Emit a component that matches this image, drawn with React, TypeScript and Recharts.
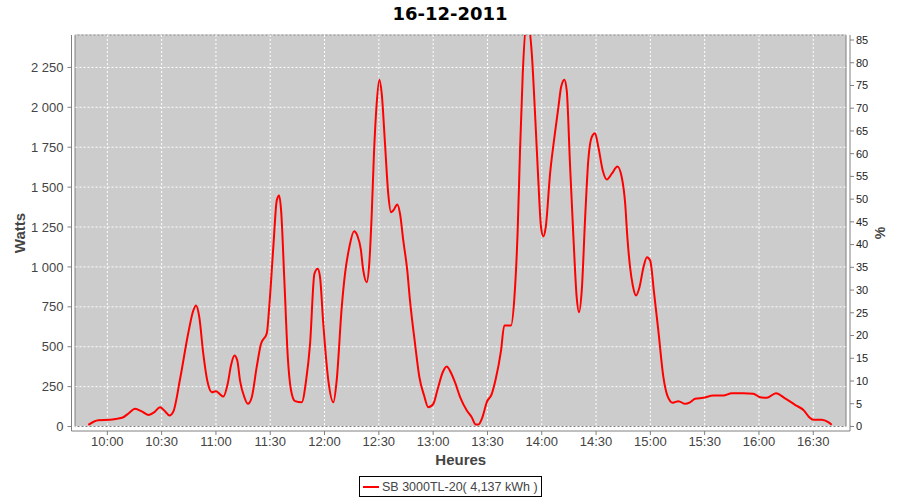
import { LineChart, Line, XAxis, YAxis, CartesianGrid, ReferenceArea, Legend } from 'recharts';

// time of each sample, minutes after midnight
const minutes = [
  589.5, 595, 601.5, 605, 608.8, 612, 615.3, 619, 622.6, 626, 629.1, 631.5, 634.3, 636.5, 640.2, 644.8,
  647.5, 649, 650.8, 653, 655.2, 657.7, 660, 662, 664.1, 666.5, 668.3, 670.2, 671.8, 673.3, 675.7, 677.6,
  679.8, 682.5, 684.9, 688.1, 689.5, 691.7, 693.6, 694.9, 696, 697.8, 699.7, 701.5, 703.7, 707.4, 709.8, 712,
  714.4, 716.2, 717.5, 719.3, 722.1, 724.9, 726.7, 729.5, 731.3, 733.7, 736.3, 738.1, 740, 741.4, 743.3, 744.7,
  746, 747.3, 748.8, 750.3, 751.6, 753.4, 755.2, 756.7, 758, 760.2, 761.7, 763.5, 765.7, 767.2, 770, 772.4,
  775, 777.3, 780.1, 782.3, 785.3, 787.5, 789.7, 792.1, 794.9, 798.6, 801.3, 803.5, 805, 807.2, 809.6, 812.4,
  814.6, 817.5, 819.3, 823, 824.9, 826.7, 828, 829.5, 832, 834.5, 836.3, 838.1, 839.6, 840.9, 842.2, 844.6,
  847, 849.2, 850.7, 852.5, 853.8, 855.6, 857.5, 859.3, 860.6, 862.1, 864, 865.7, 867.6, 869.4, 871.3, 873.7,
  875.9, 878.7, 881.8, 884.2, 886.1, 887.3, 888.8, 890.3, 892.1, 894, 896.2, 898.1, 899.9, 902.1, 904.4, 907.2,
  909.4, 912.4, 915.5, 919.2, 921.9, 924.7, 929.3, 934.8, 940.3, 945, 951.4, 956.9, 960.6, 964.3, 969.4, 974.4,
  979.9, 984.9, 987.8, 990, 994.7, 998.3, 1000.2,
];

const watts = [
  10, 40, 42, 48, 58, 85, 111, 95, 73, 90, 121, 100, 69, 95, 299, 591,
  727, 758, 685, 456, 288, 215, 221, 205, 188, 268, 382, 445, 414, 288, 184, 142,
  184, 372, 518, 585, 758, 1124, 1416, 1448, 1354, 915, 434, 226, 159, 152, 288, 518,
  957, 988, 936, 644, 288, 152, 288, 748, 957, 1124, 1224, 1197, 1113, 978, 904, 1020,
  1312, 1709, 2022, 2173, 2085, 1772, 1458, 1343, 1354, 1391, 1333, 1166, 978, 790, 518, 309,
  194, 121, 142, 226, 340, 376, 340, 276, 184, 100, 58, 13, 13, 58, 152, 205,
  299, 476, 633, 633, 810, 1228, 1730, 2210, 2560, 2336, 1960, 1542, 1249, 1191, 1249, 1584,
  1813, 2001, 2127, 2173, 2106, 1646, 1186, 810, 716, 852, 1316, 1667, 1813, 1838, 1750, 1604,
  1548, 1584, 1629, 1562, 1396, 1186, 998, 884, 821, 873, 998, 1061, 1040, 832, 602, 309,
  194, 149, 159, 142, 152, 174, 180, 194, 194, 209, 209, 205, 184, 180, 209, 177,
  136, 100, 58, 42, 42, 27, 11,
];

const timeTicks = [600, 630, 660, 690, 720, 750, 780, 810, 840, 870, 900, 930, 960, 990];
const wattTicks = [0, 250, 500, 750, 1000, 1250, 1500, 1750, 2000, 2250];
const pctTicks = [0, 5, 10, 15, 20, 25, 30, 35, 40, 45, 50, 55, 60, 65, 70, 75, 80, 85];

const seriesName = 'SB 3000TL-20( 4,137 kWh )';

const data = minutes.map((t, i) => ({ t, watts: watts[i] }));

const fmtTime = (v: number) => {
  const h = Math.floor(v / 60);
  const m = Math.round(v % 60);
  return `${h}:${String(m).padStart(2, '0')}`;
};

const fmtWatts = (v: number) =>
  v >= 1000 ? `${Math.floor(v / 1000)} ${String(v % 1000).padStart(3, '0')}` : String(v);

const tickFont = { fontFamily: '"Liberation Sans", Arial, sans-serif', fontSize: 13, fill: '#444444' };
const labelFont = { fontFamily: '"Liberation Sans", Arial, sans-serif', fontSize: 15, fontWeight: 'bold', fill: '#444444' };

const LegendBox = () => (
  <div
    style={{
      boxSizing: 'border-box',
      width: 183,
      height: 21,
      border: '1px solid #000',
      display: 'flex',
      alignItems: 'center',
      fontFamily: '"Liberation Sans", Arial, sans-serif',
      fontSize: 12.5,
      color: '#444',
      background: '#fff',
    }}
  >
    <svg width={20} height={10} style={{ marginLeft: 2 }}>
      <line x1={1} y1={5} x2={17} y2={5} stroke="#ff0000" strokeWidth={2} />
    </svg>
    <span>{seriesName}</span>
  </div>
);

export default function App() {
  return (
    <div style={{ position: 'absolute', left: 0, top: 0, width: 900, height: 500, background: '#fff' }}>
      <div
        style={{
          position: 'absolute',
          top: 3,
          width: 900,
          textAlign: 'center',
          fontFamily: '"DejaVu Sans", sans-serif',
          fontWeight: 'bold',
          fontSize: 18,
          color: '#000',
        }}
      >
        16-12-2011
      </div>
      <LineChart width={900} height={500} data={data} margin={{ top: 35, right: 0, bottom: 24, left: 0 }}>
        <ReferenceArea
          x1={582.15}
          x2={1008.1}
          y1={0}
          y2={2453}
          fill="#cccccc"
          fillOpacity={1}
          stroke="#808080"
          strokeWidth={1}
          ifOverflow="visible"
          zIndex={-150}
        />
        <CartesianGrid stroke="#ffffff" strokeDasharray="2 2" />
        <XAxis
          dataKey="t"
          type="number"
          domain={[580.2, 1010.3]}
          allowDataOverflow
          ticks={timeTicks}
          tickFormatter={fmtTime}
          height={45}
          stroke="#808080"
          tickSize={4}
          tickMargin={2}
          tick={tickFont}
          label={{ value: 'Heures', position: 'center', dy: 6, style: labelFont }}
        />
        <YAxis
          type="number"
          domain={[-28, 2453]}
          allowDataOverflow
          ticks={wattTicks}
          tickFormatter={fmtWatts}
          width={71.5}
          stroke="#808080"
          tickSize={4}
          tickMargin={4}
          tick={tickFont}
          label={{ value: 'Watts', angle: -90, position: 'center', dx: -16, style: labelFont }}
        />
        <YAxis
          yAxisId="pct"
          orientation="right"
          type="number"
          domain={[-1, 86.1]}
          allowDataOverflow
          ticks={pctTicks}
          width={50}
          stroke="#808080"
          tickSize={4}
          tickMargin={2}
          tick={{ ...tickFont, fontSize: 11, fill: '#222222' }}
          label={{ value: '%', angle: -90, position: 'center', dx: 5, style: { ...labelFont, fontSize: 14 } }}
        />
        <Legend
          verticalAlign="middle"
          align="center"
          layout="horizontal"
          wrapperStyle={{ top: 476, left: 359, width: 183, height: 21 }}
          content={() => <LegendBox />}
        />
        <Line
          type="monotone"
          dataKey="watts"
          name={seriesName}
          stroke="#ff0000"
          strokeWidth={2}
          dot={false}
          isAnimationActive={false}
        />
      </LineChart>
    </div>
  );
}
